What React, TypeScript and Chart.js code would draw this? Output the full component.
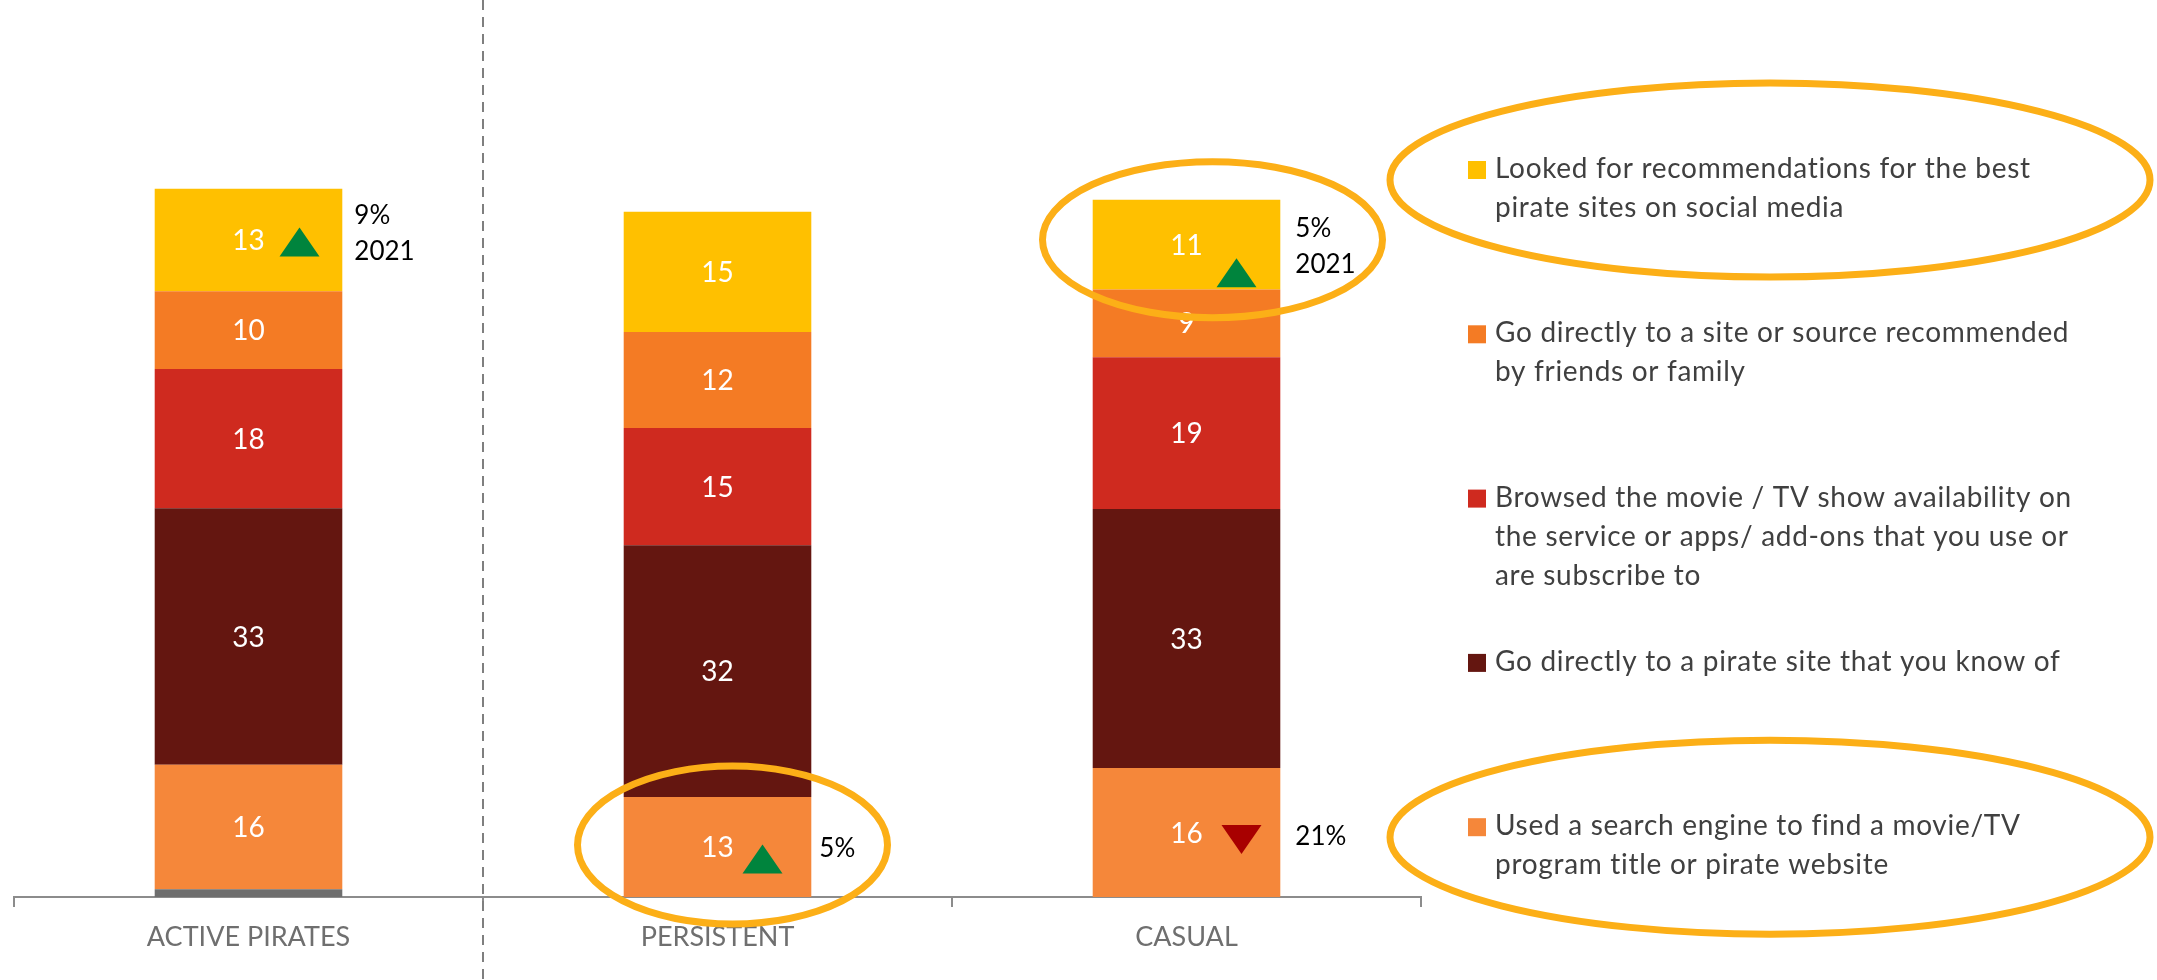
import React, { useEffect, useRef } from 'react';
import { Chart, registerables } from 'chart.js';

Chart.register(...registerables);

// ---------- data ----------
const categories = ['ACTIVE PIRATES', 'PERSISTENT', 'CASUAL'];

const otherValues = [1.0, 0, 0];
const searchEngineValues = [15.8, 12.7, 16.4];
const pirateSiteValues = [32.6, 32.0, 32.9];
const browsedValues = [17.7, 14.9, 19.3];
const friendsValues = [9.9, 12.2, 8.6];
const socialValues = [13.0, 15.3, 11.4];

const seriesNames = [
  'Other',
  'Used a search engine to find a movie/TV program title or pirate website',
  'Go directly to a pirate site that you know of',
  'Browsed the movie / TV show availability on the service or apps/ add-ons that you use or are subscribe to',
  'Go directly to a site or source recommended by friends or family',
  'Looked for recommendations for the best pirate sites on social media',
];

// legend text as shown (line breaks)
const legendLines = [
  [],
  ['Used a search engine to find a movie/TV', 'program title or pirate website'],
  ['Go directly to a pirate site that you know of'],
  ['Browsed the movie / TV show availability on', 'the service or apps/ add-ons that you use or', 'are subscribe to'],
  ['Go directly to a site or source recommended', 'by friends or family'],
  ['Looked for recommendations for the best', 'pirate sites on social media'],
];

// change markers (vs 2021)
const markCategory = [0, 1, 2, 2];
const markSeries = [5, 1, 5, 1];
const markDirection = ['up', 'up', 'up', 'down'];
const markText = [['9%', '2021'], ['5%'], ['5%', '2021'], ['21%']];

// highlighted items
const highlightBars = [
  { cat: 1, series: 1 },
  { cat: 2, series: 5 },
];
const highlightLegend = [5, 1];

// ---------- styles ----------
const seriesColors = ['#6E6E6E', '#F5873A', '#641610', '#CF2A1F', '#F47B24', '#FFC000'];
const FONT = 'Lato, "Open Sans", sans-serif';
const highlightColor = '#FCAF17';
const highlightWidth = 7;

const triDx = [51, 45, 50, 55];
const triDy = [2, 12, 28, 7];
const textDx = [12, 8, 15, 15];
const textDy = [-24, 2, -16, 4];

const barEllipse = [
  { dx: 15, dy: -2, rx: 155, ry: 79 },
  { dx: 26, dy: -5, rx: 170, ry: 78 },
];

const legendX = 1468;
const legendFirstBaseline = 178;
const legendStep = 164.3;
const legendLineHeight = 39;

const annotationPlugin = {
  id: 'annotations',
  afterDatasetsDraw(chart: any) {
    const ctx = chart.ctx;
    const xScale = chart.scales.x;

    // dashed separator between first and second category
    const sepX = (xScale.getPixelForValue(0) + xScale.getPixelForValue(1)) / 2;
    ctx.save();
    ctx.strokeStyle = '#7F7F7F';
    ctx.lineWidth = 2;
    ctx.setLineDash([10, 7]);
    ctx.beginPath();
    ctx.moveTo(Math.round(sepX), 0);
    ctx.lineTo(Math.round(sepX), chart.height);
    ctx.stroke();
    ctx.restore();

    // value labels
    ctx.save();
    ctx.fillStyle = '#FFFFFF';
    ctx.font = `28px ${FONT}`;
    ctx.textAlign = 'center';
    ctx.textBaseline = 'middle';
    chart.data.datasets.forEach((ds: any, di: number) => {
      if (di === 0) return;
      const meta = chart.getDatasetMeta(di);
      meta.data.forEach((el: any, i: number) => {
        const v = ds.data[i];
        if (!v) return;
        const p = el.getProps(['x', 'y', 'base'], true);
        ctx.fillText(String(Math.round(v)), p.x, (p.y + p.base) / 2 + 1);
      });
    });
    ctx.restore();

    // change markers
    markCategory.forEach((cat, k) => {
      const el = chart.getDatasetMeta(markSeries[k]).data[cat];
      const p = el.getProps(['x', 'y', 'base', 'width'], true);
      const cy = (p.y + p.base) / 2;
      const tx = p.x + triDx[k];
      const ty = cy + triDy[k];
      const hw = 20;
      const hh = 14.5;
      ctx.save();
      ctx.beginPath();
      if (markDirection[k] === 'up') {
        ctx.fillStyle = '#00843D';
        ctx.moveTo(tx - hw, ty + hh);
        ctx.lineTo(tx + hw, ty + hh);
        ctx.lineTo(tx, ty - hh);
      } else {
        ctx.fillStyle = '#A80000';
        ctx.moveTo(tx - hw, ty - hh);
        ctx.lineTo(tx + hw, ty - hh);
        ctx.lineTo(tx, ty + hh);
      }
      ctx.closePath();
      ctx.fill();

      ctx.fillStyle = '#000000';
      ctx.font = `26px ${FONT}`;
      ctx.textAlign = 'left';
      ctx.textBaseline = 'middle';
      const sx = p.x + p.width / 2 + textDx[k];
      markText[k].forEach((t, li) => {
        ctx.fillText(t, sx, cy + textDy[k] + li * 36);
      });
      ctx.restore();
    });

    // highlight ellipses around bars
    ctx.save();
    ctx.strokeStyle = highlightColor;
    ctx.lineWidth = highlightWidth;
    highlightBars.forEach((h, k) => {
      const el = chart.getDatasetMeta(h.series).data[h.cat];
      const p = el.getProps(['x', 'y', 'base'], true);
      const e = barEllipse[k];
      ctx.beginPath();
      ctx.ellipse(p.x + e.dx, (p.y + p.base) / 2 + e.dy, e.rx, e.ry, 0, 0, Math.PI * 2);
      ctx.stroke();
    });
    ctx.restore();

    // legend
    ctx.save();
    const order = [5, 4, 3, 2, 1];
    ctx.font = `28px ${FONT}`;
    ctx.textAlign = 'left';
    ctx.textBaseline = 'alphabetic';
    try {
      (ctx as any).letterSpacing = '0.7px';
    } catch (e) {
      /* ignore */
    }
    order.forEach((si, j) => {
      const by = legendFirstBaseline + j * legendStep;
      ctx.fillStyle = seriesColors[si];
      ctx.fillRect(legendX, by - 17, 18, 18);
      ctx.fillStyle = '#404040';
      legendLines[si].forEach((line, li) => {
        ctx.fillText(line, legendX + 27, by + li * legendLineHeight);
      });
      if (highlightLegend.includes(si)) {
        ctx.strokeStyle = highlightColor;
        ctx.lineWidth = highlightWidth;
        ctx.beginPath();
        ctx.ellipse(legendX + 302, by + 2, 380, 97, 0, 0, Math.PI * 2);
        ctx.stroke();
      }
    });
    try {
      (ctx as any).letterSpacing = '0px';
    } catch (e) {
      /* ignore */
    }
    ctx.restore();
  },
};

export default function App() {
  const canvasRef = useRef<HTMLCanvasElement | null>(null);

  useEffect(() => {
    const canvas = canvasRef.current;
    if (!canvas) return;
    const seriesValues = [otherValues, searchEngineValues, pirateSiteValues, browsedValues, friendsValues, socialValues];
    const chart = new Chart(canvas, {
      type: 'bar',
      data: {
        labels: categories,
        datasets: seriesValues.map((vals, i) => ({
          label: seriesNames[i],
          data: vals,
          backgroundColor: seriesColors[i],
          borderWidth: 0,
          barPercentage: 0.4,
          categoryPercentage: 1,
        })),
      },
      options: {
        responsive: false,
        animation: false,
        devicePixelRatio: 1,
        layout: { padding: { left: 14, right: 736, top: 0, bottom: 0 } },
        plugins: {
          legend: { display: false },
          tooltip: { enabled: false },
          title: { display: false },
        },
        scales: {
          x: {
            stacked: true,
            offset: true,
            grid: {
              display: true,
              offset: true,
              drawOnChartArea: false,
              drawTicks: true,
              tickLength: 10,
              color: '#8C8C8C',
              lineWidth: 2,
            },
            border: { display: true, color: '#8C8C8C', width: 2 },
            ticks: {
              color: '#6F6F6F',
              font: { family: FONT, size: 27 },
              padding: 14,
            },
            afterFit: (s: any) => {
              s.height = 83;
            },
          },
          y: {
            stacked: true,
            display: false,
            min: 0,
            max: 114,
          },
        },
      },
      plugins: [annotationPlugin],
    });
    return () => chart.destroy();
  }, []);

  return (
    <div style={{ position: 'absolute', left: 0, top: 0, width: 2157, height: 980, background: '#FFFFFF' }}>
      <canvas ref={canvasRef} width={2157} height={980} style={{ width: 2157, height: 980, display: 'block' }} />
    </div>
  );
}
